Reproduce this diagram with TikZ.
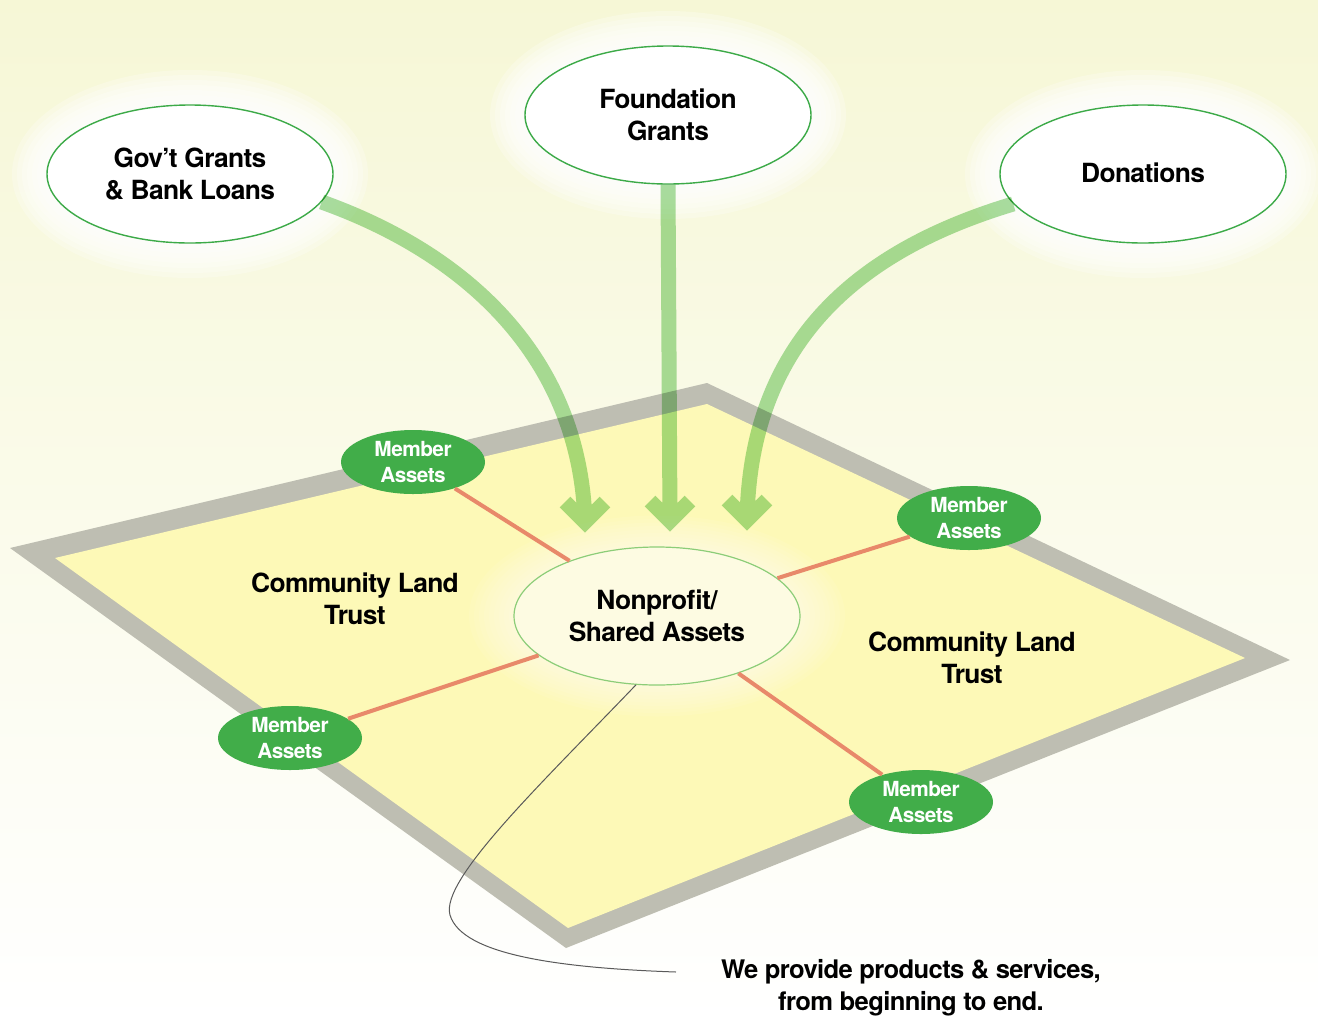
\documentclass[tikz,border=0pt]{standalone}
\usepackage{fontspec}
\setmainfont{TeX Gyre Heros}[LetterSpace=-2.5]
\usetikzlibrary{shapes.geometric}
\definecolor{bgtop}{RGB}{246,247,214}
\definecolor{plate}{RGB}{253,249,183}
\definecolor{rim}{RGB}{190,190,178}
\definecolor{leafgreen}{RGB}{60,170,72}
\definecolor{memgreen}{RGB}{65,173,73}
\definecolor{flow}{RGB}{170,222,162}
\definecolor{linkorange}{RGB}{232,137,106}
\definecolor{cream}{RGB}{253,251,226}
\definecolor{paleedge}{RGB}{140,205,120}
\definecolor{leader}{RGB}{90,90,90}
\newcommand{\dgBig}{\fontsize{13.2}{16}\selectfont\bfseries}
\newcommand{\dgNote}{\fontsize{12.8}{16}\selectfont\bfseries}
\newcommand{\dgSmall}{\fontsize{10.4}{13}\selectfont\bfseries}
\begin{document}
\begin{tikzpicture}[x=0.5pt,y=-0.5pt,
  source/.style={ellipse, draw=leafgreen, line width=0.7pt, fill=white,
    minimum width=143pt, minimum height=69pt, inner sep=0pt, align=center, font=\dgBig},
  hub/.style={ellipse, draw=paleedge, line width=0.6pt, fill=cream,
    minimum width=143pt, minimum height=69pt, inner sep=0pt, align=center, font=\dgBig},
  member/.style={ellipse, fill=memgreen, text=white, minimum width=72pt,
    minimum height=32pt, inner sep=0pt, align=center, font=\dgSmall},
  link/.style={draw=linkorange, line width=2pt},
  flowline/.style={draw=flow, line width=7.5pt, line join=miter, blend mode=multiply},
  zonelabel/.style={align=center, font=\dgBig},
]
\useasboundingbox (0,0) rectangle (1318,1019);
% background
\shade[top color=bgtop, bottom color=white] (0,0) rectangle (1318,1019);
% land plate
\fill[rim] (10,548) -- (707,383) -- (1290,660) -- (566,948) -- cycle;
\fill[plate] (55,558) -- (707,404) -- (1245,658) -- (568,928) -- cycle;
% glow round hub
\foreach \k in {0,...,9}
  \fill[white, opacity=0.07] (657,616) ellipse [x radius={143+5*\k}, y radius={69+3.5*\k}];
% halos round sources
\foreach \cx/\cy in {190/174, 668/115, 1143/174}
  \foreach \k in {0,...,7}
    \fill[white, opacity=0.25] (\cx,\cy) ellipse [x radius={143+5*\k}, y radius={69+5*\k}];
% nodes
\node[source] (gov) at (190,174) {Gov’t Grants\\\& Bank Loans};
\node[source] (fnd) at (668,115) {Foundation\\Grants};
\node[source] (don) at (1143,174) {\raisebox{1.5pt}{Donations}};
\node[hub] (np) at (657,616) {Nonprofit/\\Shared Assets};
\node[member] (m1) at (413,462) {Member\\Assets};
\node[member] (m2) at (969,518) {Member\\Assets};
\node[member] (m3) at (290,738) {Member\\Assets};
\node[member] (m4) at (921,802) {Member\\Assets};
% links
\draw[link] (m1) -- (np);
\draw[link] (m2) -- (np);
\draw[link] (m3) -- (np);
\draw[link] (m4) -- (np);
% flow arrows
\coordinate (t1) at (585,522);
\coordinate (t2) at (670,521);
\coordinate (t3) at (747,520);
\draw[flowline] (gov.-12.6) .. controls (470,255) and (580,360) .. (t1)
  ++(-20,-20) -- (t1) -- ++(20,-20);
\draw[flowline] (fnd.south) -- (t2)
  ++(-20,-20) -- (t2) -- ++(20,-20);
\draw[flowline] (don.-167) .. controls (860,250) and (750,340) .. (t3)
  ++(-20,-20) -- (t3) -- ++(20,-20);
% labels
\node[zonelabel] (clt1) at (355,599) {Community Land\\Trust};
\node[zonelabel] (clt2) at (972,658) {Community Land\\Trust};
\node[align=center, font=\dgNote] (note) at (911,988) {We provide products \& services,\\from beginning to end.};
\coordinate (noteend) at (676,972);
\draw[leader, line width=0.5pt] (np.-107) .. controls (540,785) and (440,880) .. (450,915)
  .. controls (462,955) and (560,968) .. (noteend);
\end{tikzpicture}
\end{document}
